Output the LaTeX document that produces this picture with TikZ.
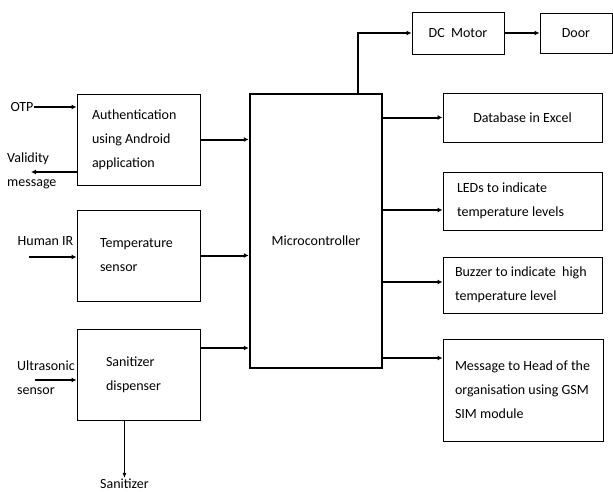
\documentclass[tikz,border=0pt]{standalone}
\usepackage{fontspec}
\setmainfont{Carlito}
\usepackage{tikz}
\usetikzlibrary{positioning}
\usetikzlibrary{arrows.meta}

\begin{document}
\begin{tikzpicture}[x=1pt, y=-1pt, font=\fontsize{14}{24}\selectfont,
	line/.style={draw, line width=2pt, -{Latex[length=5pt,width=5pt]}},
	thinline/.style={draw, line width=1.1pt, -{Latex[length=5pt,width=4pt]}},
	blk/.style={draw, line width=1pt, inner ysep=0pt}]
			\useasboundingbox (0, 0) rectangle (613, 491);
			
			\node[blk, minimum height=91pt, text width=93pt, inner xsep=15pt, align=flush left] at (138.5, 139.5) (auth) {Authentication\\using Android\\application};
			\node[blk, minimum height=91pt, text width=77pt, inner xsep=23pt, align=flush left] at (138.5, 255.5) (temp) {Temperature\\sensor};
			\node[blk, minimum height=91pt, text width=65pt, inner xsep=29pt, align=flush left] at (138.5, 374.5) (san) {Sanitizer\\dispenser};
			
			\node[draw, line width=2.5pt, minimum width=132pt, minimum height=274pt, align=center] at (316, 231) (micro) {\raisebox{-14pt}[0pt][0pt]{Microcontroller}};
			
			\node[blk, minimum width=92pt, minimum height=42pt, align=center] at (458, 33) (dc) {DC~~Motor};
			\node[blk, minimum width=72pt, minimum height=40pt, align=center] at (576, 33) (door) {Door};
			\node[blk, minimum width=159pt, minimum height=49pt, align=center] at (522.5, 117.5) (db) {Database in Excel};
			\node[blk, minimum height=58pt, text width=131pt, inner xsep=14pt, align=flush left] at (522.5, 201) (led) {LEDs to indicate\\temperature levels};
			\node[blk, minimum height=56pt, text width=135pt, inner xsep=12pt, align=flush left] at (522.5, 285) (buzz) {\mbox{Buzzer to indicate~ high}\\temperature level};
			\node[blk, minimum height=102pt, text width=136pt, inner xsep=12pt, align=flush left] at (523, 390) (msg) {\mbox{Message to Head of the}\\\mbox{organisation using GSM}\\SIM module};
			
			\node[inner sep=0pt] at (22, 107) (otp) {OTP};
			\node[inner sep=0pt, anchor=west, align=left] at (7, 171) (valid) {Validity\\message};
			\node[inner sep=0pt] at (45.5, 241) (hir) {Human IR};
			\node[inner sep=0pt, anchor=west, align=left] at (17, 377.5) (us) {Ultrasonic\\sensor};
			\node[inner sep=1pt] at (124.5, 484) (sanout) {Sanitizer};
			
			\coordinate (validend) at (31, 172);
			\coordinate (hirin) at (29, 257);
			\coordinate (usin) at (35, 380);
			\coordinate (sanin) at ([yshift=26.5pt]san.east);
			\coordinate (ledin) at ([yshift=-9pt]led.west);
			\coordinate (buzzin) at ([yshift=3pt]buzz.west);
			\coordinate (msgin) at ([yshift=32pt]msg.west);
			
			\path[line] (otp.east) -- (otp.east -| auth.west);
			\path[line] (auth.west |- validend) -- (validend);
			\path[line] (hirin) -- (hirin -| temp.west);
			\path[line] (usin) -- (usin -| san.west);
			\path[thinline] (san.south -| sanout.north) -- (sanout.north);
			
			\path[line] (auth.east) -- (auth.east -| micro.west);
			\path[line] (temp.east) -- (temp.east -| micro.west);
			\path[line] (sanin) -- (sanin -| micro.west);
			
			\path[line] ([xshift=42pt]micro.north) |- (dc.west);
			\path[line] (dc.east) -- (door.west);
			\path[line] (micro.east |- db.west) -- (db.west);
			\path[line] (micro.east |- ledin) -- (ledin);
			\path[line] (micro.east |- buzzin) -- (buzzin);
			\path[line] (micro.east |- msgin) -- (msgin);
			
		\end{tikzpicture}
\end{document}
